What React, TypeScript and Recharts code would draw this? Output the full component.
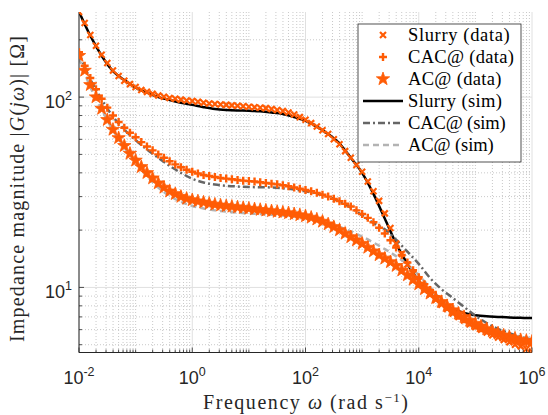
import { CartesianGrid, ComposedChart, Label, Line, Scatter, XAxis, YAxis } from "recharts";

// frequency grid (rad/s), decades and mantissas
const decades = [-2, -1, 0, 1, 2, 3, 4, 5];
const dataSteps = [1, 1.259, 1.585, 1.995, 2.512, 3.162, 3.981, 5.012, 6.31, 7.943];
const simSteps = [1, 1.585, 2.512, 3.981, 6.31];
const gridSteps = [1, 2, 3, 4, 5, 6, 7, 8, 9];

const xMajor = [0.01, 1, 100, 1e4, 1e6];
const yMajor = [10, 100];
const yMinor = [5, 6, 7, 8, 9, 20, 30, 40, 50, 60, 70, 80, 90, 200];

// |G(jw)| measured, 10 points per decade from 1e-2 to 1e6
const slurryMeas = [
  280, 245, 212, 186, 167, 151, 138, 129, 122, 117,
  113, 109, 106.5, 104, 102, 100.5, 99, 98, 97, 96,
  95.5, 94.5, 93.5, 92.5, 92, 91.5, 91, 90.5, 90, 89.5,
  89, 88.5, 88, 87.5, 86.5, 85.5, 84.5, 83, 81, 78.5,
  76, 73, 70, 67, 64, 60, 56.5, 52, 48, 44,
  40.5, 36, 32, 28.5, 24.5, 20.5, 17, 15, 13.2, 11.8,
  10.8, 9.9, 9.2, 8.6, 8.1, 7.7, 7.3, 7.0, 6.7, 6.4,
  6.2, 6.0, 5.8, 5.6, 5.45, 5.3, 5.15, 5.0, 4.9, 4.75,
  4.6,
];
const cacMeas = [
  172, 146, 126, 110, 98, 88, 80, 74, 69, 65,
  61.5, 58, 55, 52.5, 50, 48, 46, 44.3, 42.8, 41.5,
  40.5, 39.7, 39, 38.5, 38, 37.6, 37.3, 37, 36.7, 36.4,
  36.2, 36, 35.7, 35.4, 35.1, 34.8, 34.4, 34, 33.5, 33,
  32.5, 32, 31.4, 30.7, 30, 29.2, 28.4, 27.5, 26.6, 25.4,
  24.3, 23.2, 22, 20.6, 19.2, 17.7, 16.2, 14.8, 13.5, 12.3,
  11.3, 10.4, 9.7, 9.0, 8.4, 7.9, 7.5, 7.1, 6.8, 6.55,
  6.3, 6.1, 5.95, 5.8, 5.65, 5.5, 5.4, 5.3, 5.2, 5.1,
  5.0,
];
const acMeas = [
  165, 138, 116, 100, 87, 76, 67.5, 61, 55.5, 50.5,
  46.5, 43, 40, 37.5, 35.3, 33.5, 32, 31, 30, 29.3,
  28.8, 28.4, 28, 27.6, 27.3, 27, 26.8, 26.6, 26.4, 26.2,
  26, 25.8, 25.6, 25.4, 25.2, 25, 24.8, 24.6, 24.3, 24,
  23.7, 23.3, 22.8, 22.2, 21.5, 20.8, 20, 19.2, 18.4, 17.7,
  17.0, 16.2, 15.5, 14.8, 14.2, 13.6, 13.0, 12.3, 11.6, 11.0,
  10.4, 9.8, 9.3, 8.8, 8.4, 8.0, 7.6, 7.3, 7.0, 6.7,
  6.45, 6.25, 6.05, 5.9, 5.75, 5.6, 5.5, 5.4, 5.3, 5.25,
  5.2,
];

// simulated |G(jw)|, 5 points per decade
const slurrySim = [
  281, 210, 165, 137, 123, 112, 105.5, 100, 96.5, 93.5,
  91, 88.5, 86.5, 85.5, 85, 84.8, 84.2, 83, 81.5, 78.5,
  75, 70, 64, 57, 48, 40, 31, 23, 17, 13.3,
  10.8, 9.3, 8.3, 7.7, 7.35, 7.15, 7.05, 7.0, 6.95, 6.92,
  6.9,
];
const cacSim = [
  170, 124, 97, 79, 67.5, 59.5, 53, 48, 43.5, 40,
  37.2, 35.6, 34.7, 34.2, 33.9, 33.7, 33.6, 33.5, 33.2, 32.7,
  32, 31.1, 30, 28.3, 26.2, 23.9, 21.8, 20.2, 17.8, 15.4,
  13.3, 11.2, 9.8, 8.8, 7.9, 7.1, 6.5, 6.05, 5.75, 5.5,
  5.3,
];
const acSim = [
  160, 113, 86, 67, 54.5, 45.5, 38.5, 33.5, 30.3, 28.2,
  26.8, 26.0, 25.4, 25.0, 24.7, 24.5, 24.3, 24.1, 23.9, 23.6,
  23.3, 22.7, 21.8, 20.8, 19.7, 18.5, 17.2, 15.9, 14.6, 13.2,
  11.6, 10.0, 8.6, 7.6, 6.9, 6.45, 6.1, 5.85, 5.65, 5.5,
  5.4,
];

const spread = (steps: number[]) => [...decades.flatMap((d) => steps.map((s) => s * Math.pow(10, d))), 1e6];
const dataFreq = spread(dataSteps);
const simFreq = spread(simSteps);
const isIn = (v: number, list: number[]) => list.some((m) => Math.abs(m - v) / m < 1e-6);
const xMinor = spread(gridSteps).filter((f) => !isIn(f, xMajor));

const pts = (freq: number[], vals: number[]) => freq.map((f, i) => ({ f, v: vals[i] }));

const orange = "#ff5c05";
const axisColor = "#262626";
const tickFont = "'Liberation Sans', Arial, sans-serif";
const labelFont = "'Liberation Serif', 'Times New Roman', serif";

const XMark = ({ cx, cy }: any) => (
  <path d={`M${cx - 3},${cy - 3}L${cx + 3},${cy + 3}M${cx - 3},${cy + 3}L${cx + 3},${cy - 3}`} stroke={orange} strokeWidth={2.2} />
);
const PlusMark = ({ cx, cy }: any) => (
  <path d={`M${cx - 4},${cy}L${cx + 4},${cy}M${cx},${cy - 4}L${cx},${cy + 4}`} stroke={orange} strokeWidth={2.4} />
);
const starPath = (cx: number, cy: number, R: number) => {
  let d = "";
  for (let k = 0; k < 10; k++) {
    const r = k % 2 === 0 ? R : R * 0.4;
    const a = -Math.PI / 2 + (k * Math.PI) / 5;
    d += `${k === 0 ? "M" : "L"}${cx + r * Math.cos(a)},${cy + r * Math.sin(a)}`;
  }
  return d + "Z";
};
const StarMark = ({ cx, cy }: any) => <path d={starPath(cx, cy, 7)} fill={orange} stroke={orange} strokeWidth={0.8} />;

const expOf = (v: number) => Math.round(Math.log10(v));

const BottomTick = ({ x, y, payload }: any) => {
  const major = isIn(payload.value, xMajor);
  return (
    <g>
      <line x1={x} x2={x} y1={y} y2={y - (major ? 5 : 3)} stroke={axisColor} strokeWidth={0.8} />
      {major && (
        <text x={x} y={y + 31} textAnchor="middle" fontFamily={tickFont} fontSize={18} fill={axisColor}>
          10<tspan dy={-7.5} fontSize={12.5}>{expOf(payload.value)}</tspan>
        </text>
      )}
    </g>
  );
};
const TopTick = ({ x, y, payload }: any) => {
  const major = isIn(payload.value, xMajor);
  return <line x1={x} x2={x} y1={y} y2={y + (major ? 5 : 3)} stroke={axisColor} strokeWidth={0.8} />;
};
const LeftTick = ({ x, y, payload }: any) => {
  const major = isIn(payload.value, yMajor);
  return (
    <g>
      <line x1={x} x2={x + (major ? 5 : 3)} y1={y} y2={y} stroke={axisColor} strokeWidth={0.8} />
      {major && (
        <text x={x - 7} y={y + 10.5} textAnchor="end" fontFamily={tickFont} fontSize={18} fill={axisColor}>
          10<tspan dy={-7.5} fontSize={12.5}>{expOf(payload.value)}</tspan>
        </text>
      )}
    </g>
  );
};
const RightTick = ({ x, y, payload }: any) => {
  const major = isIn(payload.value, yMajor);
  return <line x1={x} x2={x - (major ? 5 : 3)} y1={y} y2={y} stroke={axisColor} strokeWidth={0.8} />;
};

const YTitle = () => (
  <text
    transform="translate(24,189) rotate(-90)"
    textAnchor="middle"
    fontFamily={labelFont}
    fontSize={20}
    fill={axisColor}
    textLength={306}
    lengthAdjust="spacing"
  >
    Impedance magnitude |<tspan fontStyle="italic">G</tspan>(<tspan fontStyle="italic">jω</tspan>)| [Ω]
  </text>
);
const XTitle = () => (
  <text x={305.5} y={409} textAnchor="middle" fontFamily={labelFont} fontSize={20} fill={axisColor} textLength={205} lengthAdjust="spacing">
    Frequency <tspan fontStyle="italic">ω</tspan> (rad s<tspan dy={-7.5} fontSize={13}>−1</tspan>
    <tspan dy={7.5}>)</tspan>
  </text>
);

const legendRows = [
  { name: "Slurry (data)", kind: "x", len: 101.7 },
  { name: "CAC@ (data)", kind: "+", len: 106 },
  { name: "AC@ (data)", kind: "star", len: 93.4 },
  { name: "Slurry (sim)", kind: "line", color: "#000000", dash: undefined, len: 94 },
  { name: "CAC@ (sim)", kind: "line", color: "#666666", dash: "7 3 2 3", len: 97.7 },
  { name: "AC@ (sim)", kind: "line", color: "#b3b3b3", dash: "6 4", len: 85.7 },
];

const LegendBox = () => (
  <svg width={548} height={415} style={{ position: "absolute", left: 0, top: 0, pointerEvents: "none" }}>
    <rect x={358} y={24} width={163} height={138} fill="#fff" stroke={axisColor} strokeWidth={0.8} />
    {legendRows.map((r, i) => {
      const cy = 35 + i * 22;
      let icon = null;
      if (r.kind === "x") icon = <XMark cx={383} cy={cy} />;
      else if (r.kind === "+") icon = <PlusMark cx={383} cy={cy} />;
      else if (r.kind === "star") icon = <StarMark cx={383} cy={cy} />;
      else icon = <line x1={363} x2={403} y1={cy} y2={cy} stroke={r.color} strokeWidth={2.5} strokeDasharray={r.dash} />;
      return (
        <g key={r.name}>
          {icon}
          <text x={408} y={cy + 6} fontFamily={labelFont} fontSize={18.5} fill="#000" textLength={r.len} lengthAdjust="spacing">
            {r.name}
          </text>
        </g>
      );
    })}
  </svg>
);

export default function App() {
  return (
    <div style={{ position: "absolute", left: 0, top: 0, width: 548, height: 415, background: "#fff" }}>
      <ComposedChart width={548} height={415} margin={{ top: 12, right: 16, bottom: 0, left: 0 }}>
        <CartesianGrid verticalValues={xMinor} horizontalValues={yMinor} stroke="#c9c9c9" strokeDasharray="1 2" />
        <CartesianGrid verticalValues={xMajor} horizontalValues={yMajor} stroke="#e0e0e0" />
        <XAxis
          dataKey="f"
          type="number"
          scale="log"
          domain={[0.01, 1e6]}
          allowDataOverflow
          ticks={[...xMajor, ...xMinor]}
          interval={0}
          tickSize={0}
          tickMargin={0}
          tickLine={false}
          tick={BottomTick}
          height={62.5}
          axisLine={{ stroke: axisColor }}
        >
          <Label content={XTitle} />
        </XAxis>
        <XAxis
          xAxisId="top"
          orientation="top"
          dataKey="f"
          type="number"
          scale="log"
          domain={[0.01, 1e6]}
          allowDataOverflow
          ticks={[...xMajor, ...xMinor]}
          interval={0}
          tickSize={0}
          tickMargin={0}
          tickLine={false}
          tick={TopTick}
          height={0}
          axisLine={{ stroke: axisColor }}
        />
        <YAxis
          dataKey="v"
          type="number"
          scale="log"
          domain={[4.55, 280]}
          allowDataOverflow
          ticks={[...yMajor, ...yMinor]}
          interval={0}
          tickSize={0}
          tickMargin={0}
          tickLine={false}
          tick={LeftTick}
          width={79}
          axisLine={{ stroke: axisColor }}
        >
          <Label content={YTitle} />
        </YAxis>
        <YAxis
          yAxisId="right"
          orientation="right"
          dataKey="v"
          type="number"
          scale="log"
          domain={[4.55, 280]}
          allowDataOverflow
          ticks={[...yMajor, ...yMinor]}
          interval={0}
          tickSize={0}
          tickMargin={0}
          tickLine={false}
          tick={RightTick}
          width={0}
          axisLine={{ stroke: axisColor }}
        />
        <Scatter name="Slurry (data)" data={pts(dataFreq, slurryMeas)} dataKey="v" shape={XMark} isAnimationActive={false} />
        <Scatter name="CAC@ (data)" data={pts(dataFreq, cacMeas)} dataKey="v" shape={PlusMark} isAnimationActive={false} />
        <Scatter name="AC@ (data)" data={pts(dataFreq, acMeas)} dataKey="v" shape={StarMark} isAnimationActive={false} />
        <Line name="Slurry (sim)" data={pts(simFreq, slurrySim)} dataKey="v" type="monotone" stroke="#000000" strokeWidth={2.5} dot={false} isAnimationActive={false} />
        <Line name="CAC@ (sim)" data={pts(simFreq, cacSim)} dataKey="v" type="monotone" stroke="#666666" strokeWidth={2.5} strokeDasharray="7 3 2 3" dot={false} isAnimationActive={false} />
        <Line name="AC@ (sim)" data={pts(simFreq, acSim)} dataKey="v" type="monotone" stroke="#b3b3b3" strokeWidth={2.5} strokeDasharray="6 4" dot={false} isAnimationActive={false} />
      </ComposedChart>
      <LegendBox />
    </div>
  );
}
